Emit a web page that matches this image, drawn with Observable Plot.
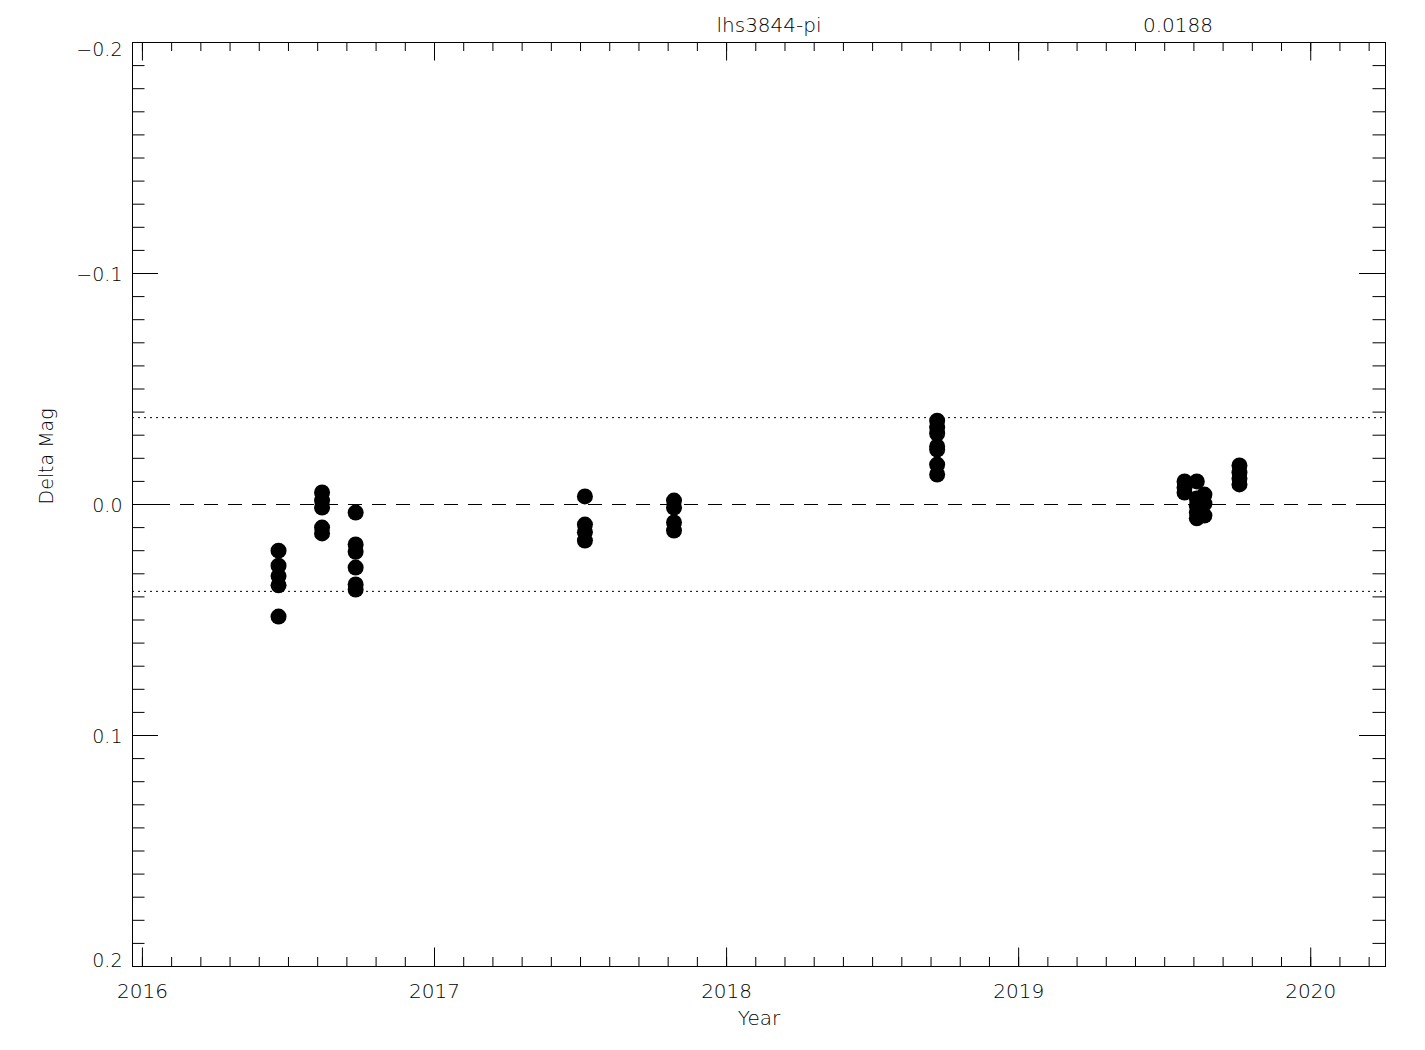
<!DOCTYPE html>
<html>
<head>
<meta charset="utf-8">
<script src="https://cdn.jsdelivr.net/npm/d3@7"></script>
<script src="https://cdn.jsdelivr.net/npm/@observablehq/plot@0.6"></script>
<style>
  html, body { margin: 0; padding: 0; background: #fff; }
</style>
</head>
<body>
<div id="chart"></div>
<script>
// ---- data ----
const starName = "lhs3844-pi";
const sigma = 0.0188;
const years = [
  2016.466, 2016.466, 2016.466, 2016.466, 2016.466,
  2016.615, 2016.615, 2016.615, 2016.615, 2016.615,
  2016.730, 2016.730, 2016.730, 2016.730, 2016.730, 2016.730,
  2017.515, 2017.515, 2017.515, 2017.515,
  2017.820, 2017.820, 2017.820, 2017.820,
  2018.721, 2018.721, 2018.721, 2018.721, 2018.721, 2018.721, 2018.721,
  2019.568, 2019.568, 2019.568,
  2019.610, 2019.610, 2019.610, 2019.610, 2019.610,
  2019.636, 2019.636, 2019.636,
  2019.756, 2019.756, 2019.756, 2019.756
];
const deltaMag = [
  0.0200, 0.0265, 0.0310, 0.0350, 0.0485,
  -0.0052, -0.0017, 0.0013, 0.0100, 0.0125,
  0.0035, 0.0173, 0.0205, 0.0273, 0.0346, 0.0368,
  -0.0035, 0.0087, 0.0120, 0.0156,
  -0.0017, 0.0013, 0.0078, 0.0113,
  -0.0363, -0.0333, -0.0307, -0.0251, -0.0238, -0.0173, -0.0130,
  -0.0100, -0.0074, -0.0052,
  -0.0100, -0.0026, 0.0004, 0.0035, 0.0060,
  -0.0043, -0.0004, 0.0048,
  -0.0169, -0.0138, -0.0113, -0.0087
];
const sigmaLines = [-2 * sigma, 2 * sigma];
const xMajorTicks = [2016, 2017, 2018, 2019, 2020];
const xMinorTicks = d3.range(20160, 20203).map(d => d / 10);
const yMajorTicks = [-0.2, -0.1, 0.0, 0.1, 0.2];
const yMinorTicks = d3.range(-20, 21).map(d => d / 100);
const xDomain = [2015.966, 2020.256];
const yDomain = [-0.2, 0.2];

const points = years.map((y, i) => ({year: y, dmag: deltaMag[i]}));

// ---- layout ----
const W = 1425, H = 1050;
const mL = 132, mR = 40, mT = 42, mB = 84;
const pW = W - mL - mR, pH = H - mT - mB;
const xMinorLen = 9, xMajorLen = 18.5, yMinorLen = 12.5, yMajorLen = 26;
const yLabelFmt = d3.format(".1f");

const chart = Plot.plot({
  width: W,
  height: H,
  marginLeft: mL, marginRight: mR, marginTop: mT, marginBottom: mB,
  style: {fontFamily: "'DejaVu Sans', sans-serif", fontSize: "20px", fontWeight: 200, background: "#fff", color: "#000"},
  x: {domain: xDomain, label: null},
  y: {domain: yDomain, reverse: true, label: null},
  marks: [
    // reference lines
    Plot.ruleY([0], {stroke: "#000", strokeWidth: 1, strokeDasharray: "14,10"}),
    Plot.ruleY(sigmaLines, {stroke: "#000", strokeWidth: 1, strokeDasharray: "2,4"}),
    // inward ticks, all four sides
    Plot.ruleX(xMinorTicks, {stroke: "#000", insetTop: pH - xMinorLen}),
    Plot.ruleX(xMinorTicks, {stroke: "#000", insetBottom: pH - xMinorLen}),
    Plot.ruleX(xMajorTicks, {stroke: "#000", insetTop: pH - xMajorLen}),
    Plot.ruleX(xMajorTicks, {stroke: "#000", insetBottom: pH - xMajorLen}),
    Plot.ruleY(yMinorTicks, {stroke: "#000", insetRight: pW - yMinorLen}),
    Plot.ruleY(yMinorTicks, {stroke: "#000", insetLeft: pW - yMinorLen}),
    Plot.ruleY(yMajorTicks, {stroke: "#000", insetRight: pW - yMajorLen}),
    Plot.ruleY(yMajorTicks, {stroke: "#000", insetLeft: pW - yMajorLen}),
    Plot.frame({stroke: "#000", strokeWidth: 1}),
    // tick labels
    Plot.axisX({ticks: xMajorTicks, tickSize: 0, tickPadding: 17, tickFormat: d => String(d), fontSize: 20, fill: "#000", label: null}),
    Plot.axisY({ticks: yMajorTicks.slice(1, -1), tickSize: 0, tickPadding: 10, tickFormat: yLabelFmt, fontSize: 19, fill: "#000", dy: 1, label: null}),
    Plot.axisY({ticks: yMajorTicks.slice(0, 1), tickSize: 0, tickPadding: 10, tickFormat: yLabelFmt, fontSize: 19, fill: "#000", dy: 7, label: null}),
    Plot.axisY({ticks: yMajorTicks.slice(-1), tickSize: 0, tickPadding: 10, tickFormat: yLabelFmt, fontSize: 19, fill: "#000", dy: -6, label: null}),
    // data
    Plot.dot(points, {x: "year", y: "dmag", r: 8, fill: "#000", stroke: null}),
    // titles
    Plot.text([starName], {frameAnchor: "top", lineAnchor: "middle", dx: 10, dy: -17, fontSize: 20, fill: "#000"}),
    Plot.text([String(sigma)], {frameAnchor: "top", lineAnchor: "middle", dx: 419, dy: -17, fontSize: 20, fill: "#000"}),
    Plot.text(["Year"], {frameAnchor: "bottom", lineAnchor: "middle", dy: 52, fontSize: 20, fill: "#000"}),
    Plot.text(["Delta Mag"], {frameAnchor: "left", lineAnchor: "middle", dx: -86, rotate: -90, fontSize: 19, fill: "#000"})
  ]
});
document.getElementById("chart").appendChild(chart);
</script>
</body>
</html>
